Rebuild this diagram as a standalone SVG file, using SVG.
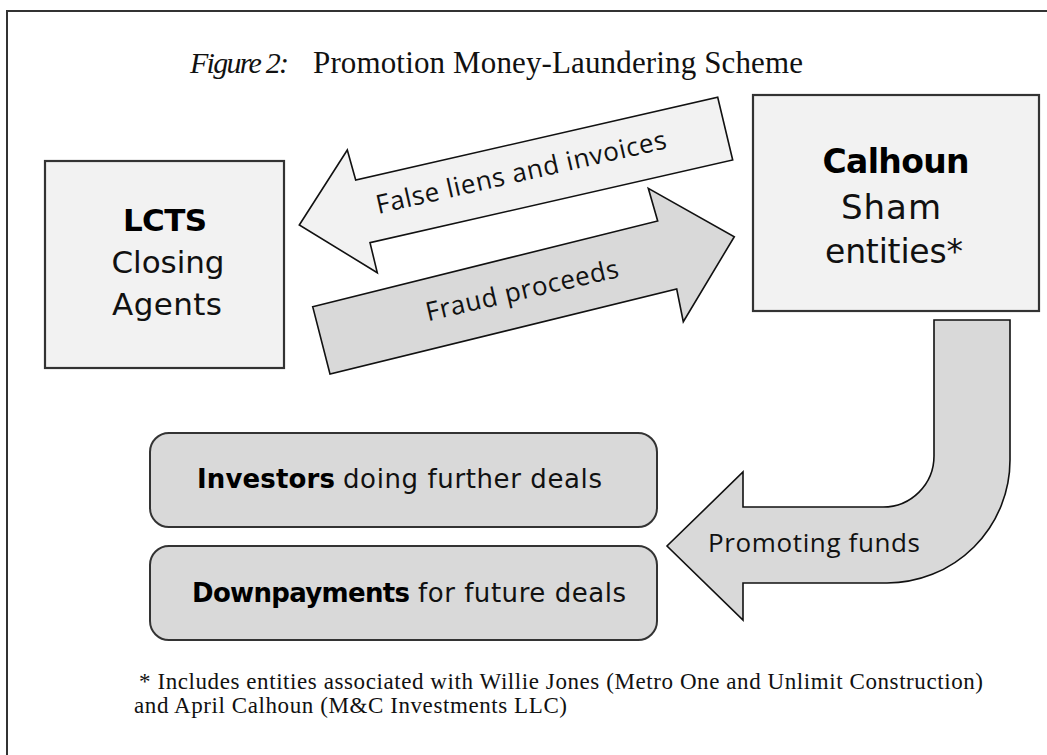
<svg xmlns="http://www.w3.org/2000/svg" width="1047" height="755" viewBox="0 0 1047 755">
  <style>
    .frame { fill: #ffffff; stroke: #333333; stroke-width: 2; }
    .box { fill: #f2f2f2; stroke: #333333; stroke-width: 2.2; }
    .rbox { fill: #d9d9d9; stroke: #333333; stroke-width: 2; }
    .arrow-light { fill: #f2f2f2; stroke: #111111; stroke-width: 1.6; stroke-linejoin: miter; }
    .arrow-dark { fill: #d9d9d9; stroke: #111111; stroke-width: 1.6; stroke-linejoin: miter; }
    .serif { font-family: "Liberation Serif", "Times New Roman", serif; fill: #111111; }
    .sans { font-family: "DejaVu Sans", "Liberation Sans", sans-serif; fill: #111111; }
    .heavy { font-family: "DejaVu Sans", "Liberation Sans", sans-serif; font-weight: bold; fill: #000000; }
    .label { font-family: "Open Sans", "Noto Sans", "Liberation Sans", sans-serif; fill: #111111; }
  </style>

  <!-- outer frame (runs off the right and bottom edges) -->
  <rect class="frame" x="7" y="11" width="1070" height="770"/>

  <!-- title -->
  <g id="title">
    <text class="serif" x="190" y="73" font-size="30" font-style="italic" textLength="99">Figure 2:</text>
    <text class="serif" x="313" y="73" font-size="31" textLength="490">Promotion Money-Laundering Scheme</text>
  </g>

  <!-- LCTS closing agents -->
  <g id="node-lcts">
    <rect class="box" x="45" y="161" width="239" height="207"/>
    <text class="heavy" x="165" y="231" font-size="31" text-anchor="middle" textLength="84">LCTS</text>
    <text class="sans" x="168" y="273" font-size="31" text-anchor="middle" textLength="113">Closing</text>
    <text class="sans" x="167" y="315" font-size="31" text-anchor="middle" textLength="110">Agents</text>
  </g>

  <!-- Calhoun sham entities -->
  <g id="node-calhoun">
    <rect class="box" x="753" y="95" width="286" height="216"/>
    <text class="heavy" x="896" y="173" font-size="33" text-anchor="middle" textLength="147">Calhoun</text>
    <text class="sans" x="891" y="219" font-size="34" text-anchor="middle" textLength="100">Sham</text>
    <text class="sans" x="894" y="263" font-size="33" text-anchor="middle" textLength="138">entities*</text>
  </g>

  <!-- destination boxes -->
  <g id="node-investors">
    <rect class="rbox" x="150" y="433" width="507" height="94" rx="19" ry="19"/>
    <text x="197" y="488" font-size="26"><tspan class="heavy" textLength="138">Investors</tspan><tspan class="sans" x="343" textLength="259">doing further deals</tspan></text>
  </g>
  <g id="node-downpayments">
    <rect class="rbox" x="150" y="546" width="507" height="94" rx="19" ry="19"/>
    <text x="192" y="602" font-size="26"><tspan class="heavy" textLength="218">Downpayments</tspan><tspan class="sans" x="418" textLength="208">for future deals</tspan></text>
  </g>

  <!-- flows between the parties -->
  <g id="connectors">
    <g id="flow-false-liens">
      <polygon class="arrow-light" points="299.3,225 347.3,150 355.7,180 717.7,97.3 732.7,160 370,242.7 377.3,272.7"/>
      <text class="label" x="523" y="181" font-size="26" text-anchor="middle" textLength="297" transform="rotate(-12.8 523 181)">False liens and invoices</text>
    </g>
    <g id="flow-fraud-proceeds">
      <polygon class="arrow-dark" points="312.7,306.7 657.7,221 648.3,188.3 734.3,236.7 683.3,321.7 676.7,289 330,374"/>
      <text class="label" x="524" y="299" font-size="26" text-anchor="middle" textLength="197" transform="rotate(-13 524 299)">Fraud proceeds</text>
    </g>
    <g id="flow-promoting-funds">
      <path class="arrow-dark" d="M934,320 L1010,320 L1010,460 A123,123 0 0 1 887,583 L743,583 L743,620 L667,546 L743,472 L743,507 L883,507 A51,51 0 0 0 934,456 Z"/>
      <text class="label" x="814" y="552" font-size="26" text-anchor="middle" textLength="212">Promoting funds</text>
    </g>
  </g>

  <!-- footnote -->
  <g id="footnote">
    <text class="serif" x="139" y="689" font-size="23" textLength="844">* Includes entities associated with Willie Jones (Metro One and Unlimit Construction)</text>
    <text class="serif" x="134" y="713" font-size="23" textLength="433">and April Calhoun (M&amp;C Investments LLC)</text>
  </g>
</svg>
